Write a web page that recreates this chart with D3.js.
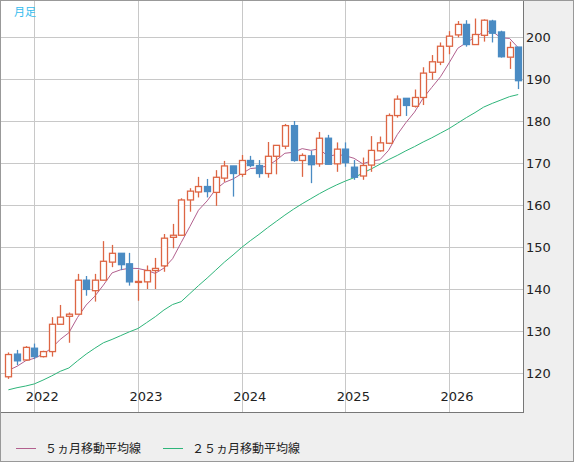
<!DOCTYPE html>
<html><head><meta charset="utf-8">
<script src="https://cdn.jsdelivr.net/npm/d3@7"></script>
<style>body{margin:0;background:#fff}svg{display:block;font-family:"DejaVu Sans",sans-serif}</style>
</head><body><svg id="c" width="574" height="462"></svg>
<script>
const months = d3.range(60).map(i => { const d = new Date(2021, 9 + i, 1); return d; });
const opens  = [119.1,124.5,123.1,125.9,123.9,125.1,131.6,133.5,134.0,142.1,139.6,142.1,146.4,148.5,146.0,141.7,141.7,144.4,145.5,152.3,
                152.8,161.2,163.1,164.4,163.0,166.4,169.3,167.3,170.6,169.4,167.5,171.6,174.0,178.9,170.6,171.7,169.8,175.9,169.8,173.3,
                169.0,166.9,169.5,172.9,174.7,181.3,185.4,183.5,185.6,191.6,194.0,197.8,200.5,203.0,198.2,200.4,203.8,201.2,195.2,197.6];
const closes = [124.4,122.9,126.1,123.9,125.1,131.6,133.3,134.0,142.1,139.9,142.1,146.6,148.5,145.8,141.7,141.8,144.4,144.9,152.1,152.8,
                161.2,163.3,164.4,163.2,166.6,169.3,167.5,170.6,169.4,167.5,171.6,174.2,178.9,170.6,171.8,169.6,175.9,169.7,173.3,170.1,
                166.6,169.4,173.0,174.8,181.3,185.2,183.7,185.6,191.4,194.1,197.8,200.2,203.0,198.2,200.6,204.0,200.9,195.3,197.5,189.6];
const highs  = [124.9,125.5,126.4,127.0,125.3,133.3,136.2,134.4,143.6,143.1,143.6,151.4,150.5,148.5,148.6,144.5,145.6,147.4,153.1,155.5,
                161.6,164.0,166.7,166.2,168.3,170.5,169.3,171.9,171.7,170.7,175.0,174.2,179.3,180.0,172.3,172.9,177.4,176.7,174.9,174.9,
                170.7,171.3,176.4,176.3,181.8,186.1,185.4,187.5,192.8,195.7,198.7,201.4,203.8,204.0,204.4,204.2,204.1,201.5,198.9,197.6];
const lows   = [118.6,121.9,122.9,123.3,123.7,123.9,131.6,127.2,134.0,138.4,137.0,142.1,145.2,144.5,140.8,137.2,140.0,140.0,144.1,149.7,
                152.8,158.4,161.8,161.8,159.8,165.5,162.0,166.7,169.0,166.5,166.5,167.3,173.3,170.3,166.7,165.2,169.1,169.7,167.9,169.1,
                166.0,166.0,167.9,172.7,174.5,180.8,181.2,183.2,183.8,189.8,193.3,195.9,199.9,197.7,198.2,198.9,198.7,195.1,192.4,187.6];
const ma25   = [116.0,116.5,116.9,117.4,118.3,119.3,120.4,121.2,122.9,124.5,125.9,127.2,128.0,128.9,129.8,130.6,132.0,133.4,135.0,136.3,
                137.0,138.9,140.8,142.6,144.5,146.4,148.1,149.9,151.5,153.0,154.6,156.1,157.6,159.0,160.3,161.5,162.7,163.8,164.8,165.7,
                166.5,167.6,168.6,169.7,170.8,171.8,172.9,173.9,175.0,176.0,177.1,178.2,179.5,180.8,182.0,183.3,184.2,185.0,185.8,186.3];
const priorCloses = [118.0,119.5,121.0,120.2];
const yTicks = [120,130,140,150,160,170,180,190,200];
const yearLabels = ["2022","2023","2024","2025","2026"];
const legendLabels = ["５ヵ月移動平均線","２５ヵ月移動平均線"];

const allC = priorCloses.concat(closes);
const ma5 = closes.map((c,i) => d3.mean(allC.slice(i, i+5)));

const svg = d3.select("#c");
const L=1, R=523, T=0, B=412;
const x = d3.scaleLinear().domain([0,59]).range([8.4, 518.2]);
const y = d3.scaleLinear().domain([120,200]).range([373, 37]);
const up="#dd6644", dn="#4a8bc3";

svg.append("rect").attr("x",0).attr("y",0).attr("width",574).attr("height",462).attr("fill","#efefef");
svg.append("rect").attr("x",L).attr("y",T).attr("width",R-L).attr("height",B-T).attr("fill","#fff");
svg.append("defs").append("clipPath").attr("id","clip").append("rect").attr("x",L).attr("y",T).attr("width",R-L).attr("height",B-T);

const g = svg.append("g").attr("clip-path","url(#clip)");
g.selectAll(".hg").data(yTicks).join("line").attr("x1",L).attr("x2",R)
 .attr("y1",d=>Math.round(y(d))+0.5).attr("y2",d=>Math.round(y(d))+0.5).attr("stroke","#c8c8c8");
const yearIdx = yearLabels.map(s => months.findIndex(m => m.getFullYear()==+s && m.getMonth()==0));
g.selectAll(".vg").data(yearIdx).join("line").attr("y1",T).attr("y2",B)
 .attr("x1",d=>Math.round(x(d))+0.5).attr("x2",d=>Math.round(x(d))+0.5).attr("stroke","#c8c8c8");

const line = d3.line().x((d,i)=>x(i)).y(d=>y(d));
g.append("path").attr("d",line(ma25)).attr("fill","none").attr("stroke","#2eb57a").attr("stroke-width",1);
g.append("path").attr("d",line(ma5)).attr("fill","none").attr("stroke","#b2608e").attr("stroke-width",1);

const idx = d3.range(60);
const cg = g.selectAll(".cd").data(idx).join("g");
cg.append("line").attr("x1",i=>Math.round(x(i))+0.5).attr("x2",i=>Math.round(x(i))+0.5)
 .attr("y1",i=>y(highs[i])).attr("y2",i=>y(lows[i]))
 .attr("stroke",i=>closes[i]>=opens[i]?up:dn).attr("stroke-width",1.3);
cg.append("rect").attr("x",i=>Math.round(x(i))-2.5).attr("width",6)
 .attr("y",i=>y(Math.max(opens[i],closes[i])))
 .attr("height",i=>Math.max(1,Math.abs(y(opens[i])-y(closes[i]))))
 .attr("fill",i=>closes[i]>=opens[i]?"#fff":dn)
 .attr("stroke",i=>closes[i]>=opens[i]?up:dn).attr("stroke-width",1.3);

svg.append("rect").attr("x",L-0.5).attr("y",T-0.5).attr("width",R-L+1).attr("height",B-T+1).attr("fill","none").attr("stroke","#777");
svg.append("rect").attr("x",0.5).attr("y",0.5).attr("width",573).attr("height",461).attr("fill","none").attr("stroke","#999");

svg.selectAll(".yl").data(yTicks).join("text").attr("x",526).attr("y",d=>y(d)+5)
 .attr("font-size",13).attr("fill","#222").text(d=>d);
svg.selectAll(".xl").data(yearIdx).join("text").attr("x",i=>x(i)+8).attr("y",401)
 .attr("text-anchor","middle").attr("font-size",13).attr("fill","#222").text((d,k)=>yearLabels[k]);

svg.append("text").attr("x",14).attr("y",16).attr("font-size",11).attr("fill","#33bbee")
 .attr("font-family","Noto Sans CJK JP").text("月足");
const lg = [{x:16,c:"#b2608e"},{x:163,c:"#2eb57a"}];
lg.forEach((d,k)=>{
  svg.append("line").attr("x1",d.x).attr("x2",d.x+20).attr("y1",448.5).attr("y2",448.5).attr("stroke",d.c);
  svg.append("text").attr("x",d.x+29).attr("y",453).attr("font-size",12).attr("fill","#222")
   .attr("font-family","Noto Sans CJK JP").text(legendLabels[k]);
});
</script></body></html>
